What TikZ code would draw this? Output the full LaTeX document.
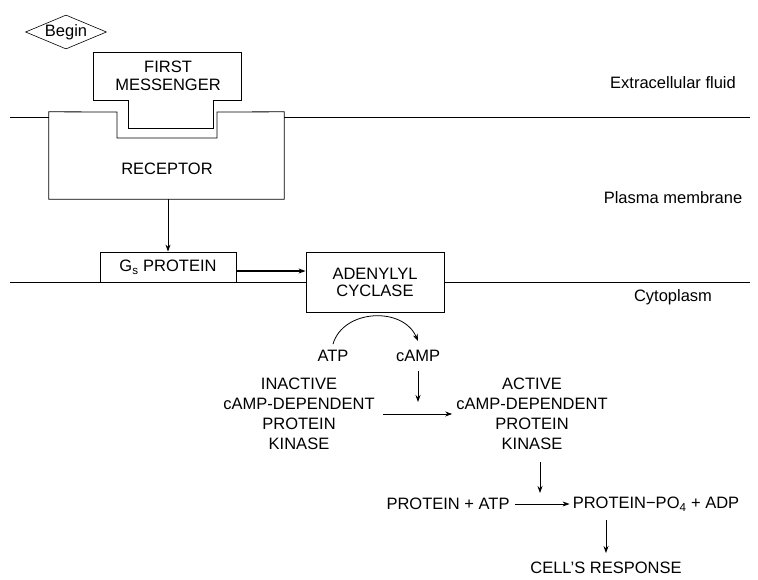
\documentclass[tikz,border=0pt]{standalone}
\usepackage{fontspec}
\setmainfont{Liberation Sans}
\usetikzlibrary{arrows.meta,shapes.geometric}
\begin{document}
\begin{tikzpicture}[x=1pt,y=-1pt,
  lbl/.style={font=\fontsize{16.5}{20}\selectfont, inner sep=1pt, align=center},
  line/.style={line width=0.8pt},
  arr/.style={line width=0.8pt, -{Stealth[length=7pt,width=5pt]}},
  boxed/.style={draw, line width=0.8pt, lbl},
]
\useasboundingbox (0,0) rectangle (758,579);
% Begin marker
\node[lbl, diamond, draw, line width=0.6pt, minimum width=81pt, minimum height=34pt, inner sep=0pt, aspect=2.4] (begin) at (66,32) {Begin};
% first messenger
\draw[line] (93,52) -- (241,52) -- (241,100) -- (213,100) -- (213,128) -- (128,128) -- (128,100) -- (93,100) -- cycle;
\node[lbl, font=\fontsize{16.5}{18}\selectfont] (fm) at (168,76) {FIRST\\MESSENGER};
% receptor
\node[minimum width=235pt, minimum height=87pt, inner sep=0pt] (rec) at (166.5,155.5) {};
\draw[line] (rec.north west) -- (117,112) -- (117,138) -- (217,138) -- (217,112) -- (rec.north east) -- (rec.south east) -- (rec.south west) -- cycle;
\node[lbl] (rectext) at (167,169) {RECEPTOR};
% membrane lines
\draw[line] (10,117) -- (49,117);
\draw[line] (284,117) -- (750,117);
% Gs and adenylyl cyclase
\node[boxed, minimum width=136pt, minimum height=30pt] (gs) at (168,267) {G\textsubscript{s} PROTEIN};
\node[boxed, font=\fontsize{16.5}{17}\selectfont, minimum width=138pt, minimum height=60pt] (ac) at (375,282) {ADENYLYL\\CYCLASE};
\draw[line] (10,282) -- (ac.west);
\draw[line] (ac.east) -- (750,282);
\draw[arr] (rec.south -| gs.north) -- (gs.north);
\draw[arr, line width=1.6pt] ([yshift=-4pt]gs.east) -- ([yshift=-4pt]gs.east -| ac.west);
% region labels
\node[lbl] (ext) at (673,83) {Extracellular fluid};
\node[lbl] (pm) at (673,198) {Plasma membrane};
\node[lbl] (cyto) at (673,297) {Cytoplasm};
% ATP -> cAMP
\node[lbl] (atp) at (333,356) {ATP};
\node[lbl] (camp) at (418,356) {cAMP};
\draw[arr] ([yshift=5pt]atp.north) .. controls +(10,-35) and +(-15,-35) .. ([yshift=8pt]camp.north);
\coordinate (campend) at (418,402);
\draw[arr] ([yshift=-8pt]camp.south) -- (campend);
% kinases
\node[lbl] (inact) at (299,414) {INACTIVE\\cAMP-DEPENDENT\\PROTEIN\\KINASE};
\node[lbl] (act) at (532,414) {ACTIVE\\cAMP-DEPENDENT\\PROTEIN\\KINASE};
\draw[arr] ([xshift=7pt]inact.east) -- ([xshift=-3pt]act.west);
\coordinate (k1) at (540,462);
\coordinate (k2) at (540,493);
\draw[arr] (k1) -- (k2);
% phosphorylation
\node[lbl] (pa) at (448,504) {PROTEIN + ATP};
\node[lbl] (pp) at (656,504) {PROTEIN−PO\textsubscript{4} + ADP};
\draw[arr] ([xshift=4pt]pa.east) -- ([xshift=-2pt]pp.west);
\node[lbl] (resp) at (606,568) {CELL'S RESPONSE};
\coordinate (r1) at (606,520);
\coordinate (r2) at (606,553);
\draw[arr] (r1) -- (r2);
\end{tikzpicture}
\end{document}
